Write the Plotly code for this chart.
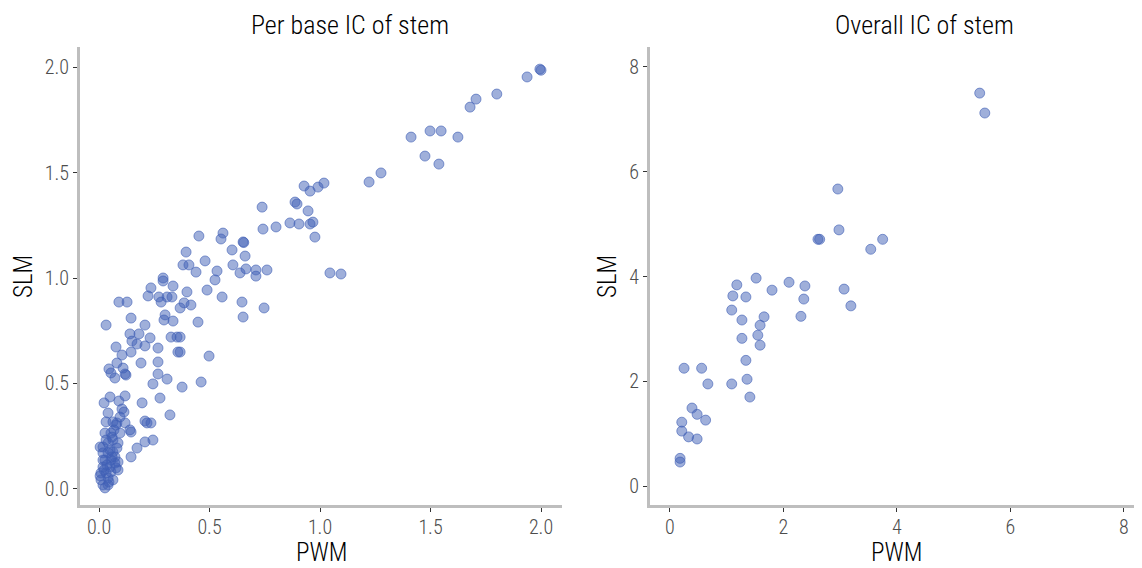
import plotly.graph_objects as go

# ---- Per base IC of stem (left panel) ----
pb_pwm = [1.995, 2.0, 1.937, 1.80, 1.706, 1.679, 1.412, 1.498, 1.548, 1.624, 1.475, 1.538, 1.276, 1.222,
          0.928, 0.955, 0.991, 1.018, 0.738, 0.887, 0.896, 0.946, 0.742, 0.801, 0.864, 0.905, 0.955, 0.968, 0.977,
          0.452, 0.561, 0.552, 0.652, 0.655, 0.394, 0.602, 0.661, 0.480, 0.380, 0.407, 0.439, 0.534, 0.606, 0.638,
          0.665, 0.710, 0.710, 0.760, 1.045, 1.095, 0.525, 0.398, 0.489, 0.557, 0.647, 0.385, 0.416, 0.367, 0.747,
          0.652, 0.448, 0.367, 0.367, 0.498, 0.462, 0.376,
          0.290, 0.290, 0.235, 0.335, 0.222, 0.271, 0.308, 0.330, 0.090, 0.127,
          0.281, 0.032, 0.145, 0.208, 0.299, 0.294, 0.335, 0.140, 0.181, 0.231, 0.149, 0.172, 0.208, 0.326, 0.353,
          0.077, 0.267, 0.145, 0.357, 0.104, 0.267, 0.190, 0.081, 0.109, 0.045, 0.054, 0.072, 0.118, 0.122, 0.267,
          0.308, 0.244,
          0.023, 0.050, 0.090, 0.118, 0.104, 0.113, 0.195, 0.276, 0.041, 0.032, 0.063, 0.081, 0.118, 0.095, 0.208,
          0.235, 0.217, 0.140, 0.145, 0.027, 0.054, 0.095, 0.321, 0.018, 0.041, 0.086, 0.172, 0.208, 0.244, 0.145,
          0.086, 0.059, 0.077, 0.086, 0.005,
          0.018, 0.041, 0.063, 0.027, 0.054, 0.072, 0.018, 0.050, 0.072, 0.009, 0.032, 0.054, 0.009, 0.041, 0.018,
          0.041, 0.063, 0.027, 0.081, 0.050, 0.032, 0.068, 0.005, 0.036, 0.059, 0.023, 0.045, 0.077, 0.018, 0.063]
pb_slm = [1.990, 1.985, 1.953, 1.872, 1.848, 1.810, 1.668, 1.697, 1.697, 1.668, 1.578, 1.540, 1.498, 1.455,
          1.436, 1.412, 1.431, 1.450, 1.336, 1.360, 1.351, 1.318, 1.232, 1.242, 1.261, 1.256, 1.256, 1.265, 1.194,
          1.199, 1.213, 1.185, 1.171, 1.168, 1.123, 1.133, 1.104, 1.081, 1.062, 1.062, 1.028, 1.033, 1.062, 1.024,
          1.043, 1.038, 1.009, 1.038, 1.024, 1.019, 0.991, 0.934, 0.943, 0.910, 0.886, 0.882, 0.872, 0.858, 0.858,
          0.815, 0.791, 0.720, 0.649, 0.630, 0.507, 0.483,
          1.000, 0.986, 0.953, 0.962, 0.915, 0.910, 0.910, 0.910, 0.886, 0.886,
          0.886, 0.777, 0.810, 0.777, 0.825, 0.801, 0.796, 0.735, 0.735, 0.716, 0.701, 0.687, 0.678, 0.720, 0.720,
          0.673, 0.668, 0.649, 0.649, 0.635, 0.602, 0.597, 0.597, 0.573, 0.569, 0.550, 0.526, 0.545, 0.540, 0.545,
          0.521, 0.498,
          0.408, 0.436, 0.417, 0.441, 0.379, 0.365, 0.408, 0.431, 0.360, 0.318, 0.318, 0.313, 0.313, 0.341, 0.322,
          0.313, 0.313, 0.280, 0.270, 0.265, 0.265, 0.265, 0.351, 0.199, 0.218, 0.218, 0.194, 0.223, 0.232, 0.152,
          0.090, 0.246, 0.303, 0.128, 0.199,
          0.171, 0.171, 0.175, 0.137, 0.137, 0.152, 0.104, 0.104, 0.123, 0.076, 0.076, 0.081, 0.043, 0.052, 0.019,
          0.019, 0.043, 0.005, 0.194, 0.185, 0.232, 0.280, 0.062, 0.114, 0.152, 0.090, 0.033, 0.100, 0.137, 0.232]

# ---- Overall IC of stem (right panel) ----
ov_pwm = [5.46, 5.55, 2.96, 2.98, 2.61, 2.64, 3.75, 3.54, 1.52, 1.18, 2.10, 2.38, 1.80, 1.11, 1.34, 2.36,
          3.07, 3.19, 1.09, 2.31, 1.27, 1.66, 1.59, 1.55, 1.27, 1.59, 1.34, 1.36, 1.09, 0.67, 0.25, 0.56,
          1.41, 0.39, 0.48, 0.63, 0.21, 0.21, 0.33, 0.48, 0.18, 0.18]
ov_slm = [7.50, 7.12, 5.67, 4.89, 4.71, 4.71, 4.71, 4.52, 3.97, 3.84, 3.89, 3.82, 3.74, 3.63, 3.61, 3.57,
          3.76, 3.44, 3.36, 3.24, 3.17, 3.23, 3.07, 2.88, 2.82, 2.69, 2.40, 2.04, 1.95, 1.95, 2.25, 2.25,
          1.70, 1.49, 1.37, 1.26, 1.22, 1.05, 0.94, 0.90, 0.53, 0.46]

titles = ["Per base IC of stem", "Overall IC of stem"]
x_label = "PWM"
y_label = "SLM"
pb_ticks = [0, 0.5, 1.0, 1.5, 2.0]
pb_ticktext = ["0.0", "0.5", "1.0", "1.5", "2.0"]
ov_ticks = [0, 2, 4, 6, 8]

FONT = "Roboto Condensed, Liberation Sans Narrow, Arial Narrow, sans-serif"
fill = "rgba(63, 95, 181, 0.50)"
edge = "rgba(63, 95, 181, 0.60)"

# the page places the figure 8px from the top-left corner (default body margin)
OFF = 8
W, H = 1142 - OFF, 568 - OFF


def px_x(p):
    return (p - OFF) / W


def px_y(p):
    return 1 - (p - OFF) / H


fig = go.Figure()
fig.add_trace(go.Scatter(x=pb_pwm, y=pb_slm, mode="markers", xaxis="x", yaxis="y",
                         marker=dict(size=10, color=fill, line=dict(width=1, color=edge)),
                         showlegend=False, hoverinfo="x+y"))
fig.add_trace(go.Scatter(x=ov_pwm, y=ov_slm, mode="markers", xaxis="x2", yaxis="y2",
                         marker=dict(size=10, color=fill, line=dict(width=1, color=edge)),
                         showlegend=False, hoverinfo="x+y"))

axis_common = dict(showline=True, linewidth=3, linecolor="#BEBEBE", showgrid=False, zeroline=False,
                   ticks="outside", ticklen=4, tickwidth=1, tickcolor="#333333", automargin=False,
                   tickfont=dict(family=FONT, size=20, color="#4D4D4D", weight=300))

fig.update_layout(
    width=W, height=H,
    margin=dict(l=0, r=0, t=0, b=0),
    paper_bgcolor="white", plot_bgcolor="white",
    xaxis=dict(domain=[px_x(80), px_x(562)], range=[-0.086, 2.095], anchor="y",
               tickvals=pb_ticks, ticktext=pb_ticktext, ticklabelstandoff=-2, **axis_common),
    yaxis=dict(domain=[px_y(505), px_y(47)], range=[-0.076, 2.095], anchor="x",
               tickvals=pb_ticks, ticktext=pb_ticktext, **axis_common),
    xaxis2=dict(domain=[px_x(650), px_x(1142)], range=[-0.35, 8.32], anchor="y2",
                tickvals=ov_ticks, ticklabelstandoff=-2, **axis_common),
    yaxis2=dict(domain=[px_y(505), px_y(47)], range=[-0.36, 8.38], anchor="x2",
                tickvals=ov_ticks, **axis_common),
)

title_font = dict(family=FONT, size=26, color="#000000", weight=300)
axis_title_font = dict(family=FONT, size=25, color="#000000", weight=300)
ann = []
for txt, cx in zip(titles, [350, 924]):
    ann.append(dict(text=txt, x=px_x(cx), y=px_y(25), xref="paper", yref="paper", showarrow=False,
                    xanchor="center", yanchor="middle", font=title_font))
for cx in [321, 896]:
    ann.append(dict(text=x_label, x=px_x(cx), y=0, xref="paper", yref="paper", showarrow=False,
                    xanchor="center", yanchor="bottom", borderpad=0, font=axis_title_font))
for cx in [23, 607]:
    ann.append(dict(text=y_label, x=px_x(cx), y=px_y(277), xref="paper", yref="paper", showarrow=False,
                    xanchor="center", yanchor="middle", textangle=-90, font=axis_title_font))
fig.update_layout(annotations=ann)

fig.write_html("out.html")
